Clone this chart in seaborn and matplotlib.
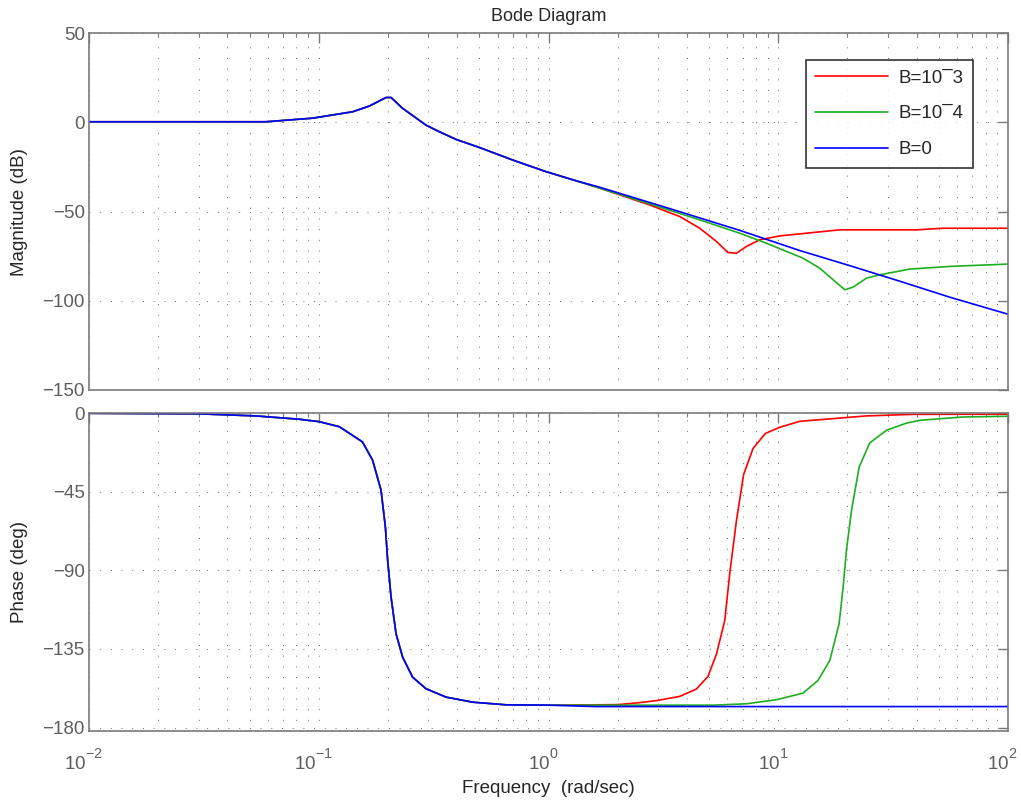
import matplotlib
matplotlib.use("Agg")
import matplotlib.pyplot as plt
import seaborn as sns
import pandas as pd
from matplotlib.transforms import ScaledTranslation
from matplotlib.ticker import LogLocator, NullFormatter, FixedLocator

# MATLAB-like, larger and higher exponents on the log tick labels
try:
    import matplotlib._mathtext as _mt
    _mt.FontConstantsBase.sup1 = 1.15
    _mt.SHRINK_FACTOR = 0.76
except Exception:
    pass

# ---------------- data ----------------
series_labels = ["B=10\u00af3", "B=10\u00af4", "B=0"]
series_colors = ["#ff0000", "#1fae1f", "#0000ff"]

# magnitude (dB): part shared by all three curves
mag_freq_common = [0.01, 0.0588, 0.0939, 0.1404, 0.166, 0.1963, 0.2064, 0.2318,
                   0.2563, 0.293, 0.335, 0.396, 0.5, 0.7, 0.977, 1.32]
mag_common = [0.4, 0.4, 2.4, 6.0, 9.2, 14.0, 14.0, 7.9,
              3.9, -1.5, -5.2, -9.5, -14.0, -21.1, -27.6, -32.7]

# magnitude high-frequency parts
mag_freq_red = [1.67, 2.75, 3.72, 4.55, 5.38, 6.04, 6.58, 7.27, 8.3, 10.15, 18.5, 40.0, 52.0, 100.0]
mag_red = [-36.8, -46.2, -52.7, -59.3, -66.7, -72.9, -73.3, -69.5, -65.8, -63.6, -60.2, -60.2, -59.3, -59.3]

mag_freq_green = [1.67, 2.75, 4.55, 6.8, 8.88, 12.83, 15.16, 17.33, 19.49, 21.18, 24.2, 27.7, 37.4, 55.9, 100.0]
mag_green = [-36.8, -45.6, -54.6, -62.1, -67.7, -76.1, -81.7, -88.2, -93.8, -92.3, -87.3, -85.4, -82.2, -80.7, -79.4]

mag_freq_blue = [1.67, 3.72, 6.8, 12.4, 20.5, 33.8, 55.9, 100.0]
mag_blue = [-36.3, -50.0, -60.5, -71.8, -80.3, -89.0, -98.0, -107.5]

# phase (deg): part shared by all three curves
ph_freq_common = [0.01, 0.03, 0.0532, 0.0822, 0.1005, 0.123, 0.155, 0.1716, 0.1867, 0.195,
                  0.1995, 0.2064, 0.217, 0.2318, 0.2563, 0.293, 0.3584, 0.468, 0.654, 1.0]
ph_common = [0.0, -0.3, -1.5, -3.4, -4.8, -7.7, -16.4, -26.9, -44.1, -65.2,
             -84.3, -105.3, -126.3, -139.7, -151.2, -157.8, -162.6, -165.5, -167.0, -167.2]

ph_freq_red = [2.0, 2.51, 2.95, 3.72, 4.40, 4.94, 5.38, 5.85, 6.15, 6.58, 7.07, 7.77,
               8.8, 10.15, 12.4, 24.2, 38.5, 100.0]
ph_red = [-166.9, -165.7, -164.6, -162.2, -158.0, -150.8, -138.1, -118.7, -91.7, -61.3, -35.0, -20.1,
          -11.5, -8.0, -4.6, -1.5, -0.6, -0.5]

ph_freq_green = [3.72, 5.2, 7.27, 9.82, 12.83, 14.9, 16.76, 18.4, 19.16, 19.8, 20.84, 22.5,
                 25.0, 29.6, 36.2, 41.4, 63.9, 100.0]
ph_green = [-167.2, -167.2, -166.4, -164.1, -160.3, -153.0, -141.6, -120.6, -99.6, -78.5, -55.6, -30.8,
            -17.0, -9.7, -5.6, -4.0, -2.1, -1.7]

ph_freq_blue = [1.6, 10.0, 100.0]
ph_blue = [-168.0, -168.0, -168.0]

x_ticks = [0.01, 0.1, 1, 10, 100]
mag_ticks = [-150, -100, -50, 0, 50]
ph_ticks = [-180, -135, -90, -45, 0]

# ---------------- build tables ----------------
def table(fc, vc, fh, vh, label):
    return pd.DataFrame({"freq": list(fc) + list(fh), "value": list(vc) + list(vh), "series": label})

mag_df = pd.concat([
    table(mag_freq_common, mag_common, mag_freq_red, mag_red, series_labels[0]),
    table(mag_freq_common, mag_common, mag_freq_green, mag_green, series_labels[1]),
    table(mag_freq_common, mag_common, mag_freq_blue, mag_blue, series_labels[2]),
], ignore_index=True)
ph_df = pd.concat([
    table(ph_freq_common, ph_common, ph_freq_red, ph_red, series_labels[0]),
    table(ph_freq_common, ph_common, ph_freq_green, ph_green, series_labels[1]),
    table(ph_freq_common, ph_common, ph_freq_blue, ph_blue, series_labels[2]),
], ignore_index=True)

# ---------------- style ----------------
sns.set_style("white")
plt.rcParams["font.family"] = ["Liberation Sans", "DejaVu Sans"]
plt.rcParams["mathtext.fontset"] = "custom"
plt.rcParams["mathtext.rm"] = "Liberation Sans"
plt.rcParams["mathtext.it"] = "Liberation Sans:italic"
plt.rcParams["axes.unicode_minus"] = True

FS = 13.5
GRAY = "#7a7a7a"
TICKLAB = "#5e5e5e"
GRIDC = "#6e6e6e"

fig = plt.figure(figsize=(10.21, 8.06), dpi=100)
ax1 = fig.add_axes([89 / 1021, 1 - 390 / 806, (1008 - 89) / 1021, (390 - 33.3) / 806])
ax2 = fig.add_axes([89 / 1021, 1 - 731 / 806, (1008 - 89) / 1021, (731 - 413.3) / 806], sharex=ax1)

palette = dict(zip(series_labels, series_colors))
sns.lineplot(data=mag_df, x="freq", y="value", hue="series", hue_order=series_labels,
             palette=palette, estimator=None, lw=1.2, ax=ax1)
sns.lineplot(data=ph_df, x="freq", y="value", hue="series", hue_order=series_labels,
             palette=palette, estimator=None, lw=1.2, ax=ax2, legend=False)

for ax in (ax1, ax2):
    ax.set_xscale("log")
    ax.set_xlim(0.01, 100)
    ax.xaxis.set_major_locator(FixedLocator(x_ticks))
    ax.xaxis.set_minor_locator(LogLocator(base=10, subs=range(2, 10)))
    ax.xaxis.set_minor_formatter(NullFormatter())
    ax.grid(True, which="major", axis="both", color=GRIDC, lw=0.7, linestyle=(0, (1, 10)))
    ax.grid(True, which="minor", axis="x", color=GRIDC, lw=0.7, linestyle=(0, (1, 10)))
    ax.tick_params(which="both", direction="in", top=True, right=True, color=GRAY,
                   labelcolor=TICKLAB, labelsize=FS)
    ax.tick_params(which="major", length=7, width=1.0)
    ax.tick_params(which="minor", length=3, width=0.8)
    ax.tick_params(axis="y", pad=3)
    ax.tick_params(axis="x", pad=12.5)
    for s in ax.spines.values():
        s.set_color(GRAY)
        s.set_linewidth(1.2)
    ax.set_xlabel("")

ax1.set_ylim(-150, 50)
ax1.set_yticks(mag_ticks)
ax2.set_ylim(-182, 0)
ax2.set_yticks(ph_ticks)
ax1.tick_params(axis="x", which="both", labelbottom=False)

ax1.set_ylabel("Magnitude (dB)", fontsize=FS)
ax2.set_ylabel("Phase (deg)", fontsize=FS)
ax2.set_xlabel("Frequency  (rad/sec)", fontsize=FS, labelpad=4.5)
ax1.set_title("Bode Diagram", fontsize=13, pad=9)
ax1.yaxis.set_label_coords(-0.066, 0.5)
ax2.yaxis.set_label_coords(-0.066, 0.5)

# MATLAB places the base "10" slightly left of the tick
offset = ScaledTranslation(-4 / 72, 0, fig.dpi_scale_trans)
for lab in ax2.get_xticklabels():
    lab.set_transform(lab.get_transform() + offset)

handles, labs = ax1.get_legend_handles_labels()
leg = ax1.legend(handles, labs, loc="upper right", bbox_to_anchor=(0.962, 0.925),
                 borderaxespad=0, fontsize=FS, frameon=True, fancybox=False,
                 edgecolor="black", handlelength=3.9, handletextpad=0.55,
                 labelspacing=1.0, borderpad=0.5)
leg.get_frame().set_linewidth(1.2)

fig.savefig("out.png", dpi=100)
